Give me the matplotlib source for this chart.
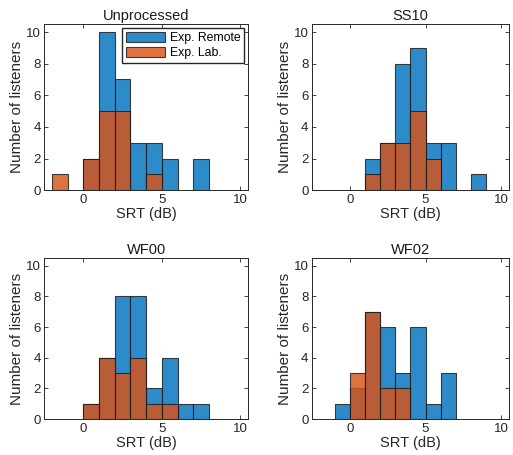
import numpy as np
import matplotlib.pyplot as plt

plt.rcParams['font.family'] = ['Liberation Sans', 'DejaVu Sans']

# bin edges -2..10, width 1
edges = np.arange(-2, 11, 1)
titles = ['Unprocessed', 'SS10', 'WF00', 'WF02']

# counts per bin: [-2,-1), [-1,0), [0,1), ... [9,10)
remote_unproc = [0, 0, 2, 10, 7, 3, 3, 2, 0, 2, 0, 0]
lab_unproc    = [1, 0, 2, 5, 5, 0, 1, 0, 0, 0, 0, 0]
remote_ss10   = [0, 0, 0, 2, 3, 8, 9, 3, 3, 0, 1, 0]
lab_ss10      = [0, 0, 0, 1, 3, 3, 5, 2, 0, 0, 0, 0]
remote_wf00   = [0, 0, 1, 4, 8, 8, 2, 4, 1, 1, 0, 0]
lab_wf00      = [0, 0, 1, 4, 3, 4, 1, 1, 0, 0, 0, 0]
remote_wf02   = [0, 1, 2, 7, 6, 3, 6, 1, 3, 0, 0, 0]
lab_wf02      = [0, 0, 3, 7, 2, 2, 0, 0, 0, 0, 0, 0]

remote = [remote_unproc, remote_ss10, remote_wf00, remote_wf02]
lab = [lab_unproc, lab_ss10, lab_wf00, lab_wf02]

blue = '#0072BD'
orange = '#D95319'

fig = plt.figure(figsize=(5.13, 4.55), dpi=100)
pos = [[0.086, 0.582, 0.398, 0.365],
       [0.608, 0.582, 0.384, 0.365],
       [0.086, 0.079, 0.398, 0.354],
       [0.608, 0.079, 0.384, 0.354]]

for i in range(4):
    ax = fig.add_axes(pos[i])
    r = np.array(remote[i])
    l = np.array(lab[i])
    w = np.diff(edges)
    m = r > 0
    ax.bar(edges[:-1][m], r[m], width=w[m], align='edge', color=blue, alpha=0.82,
           edgecolor='#1a1a1a', linewidth=0.8, label='Exp. Remote')
    m = l > 0
    ax.bar(edges[:-1][m], l[m], width=w[m], align='edge', color=orange, alpha=0.82,
           edgecolor='#1a1a1a', linewidth=0.8, label='Exp. Lab.')
    ax.set_xlim(-2.5, 10.5)
    ax.set_ylim(0, 10.5)
    ax.set_xticks([0, 5, 10])
    ax.set_yticks([0, 2, 4, 6, 8, 10])
    ax.tick_params(direction='in', top=True, right=True, labelsize=9.5,
                   length=3, width=0.6, colors='#262626', pad=2.5)
    for s in ax.spines.values():
        s.set_color('#262626')
        s.set_linewidth(0.7)
    ax.set_title(titles[i], fontsize=10.5, pad=3, color='#1a1a1a')
    ax.set_xlabel('SRT (dB)', fontsize=10.5, labelpad=1, color='#262626')
    ax.set_ylabel('Number of listeners', fontsize=11, labelpad=1, color='#262626')
    if i == 0:
        ax.legend(loc='upper right', fontsize=8.8, frameon=True, fancybox=False,
                  edgecolor='#262626', handlelength=3.2, handleheight=0.9,
                  borderaxespad=0.35, borderpad=0.3, labelspacing=0.2,
                  handletextpad=0.4, framealpha=1)

fig.savefig('out.png', dpi=100)
